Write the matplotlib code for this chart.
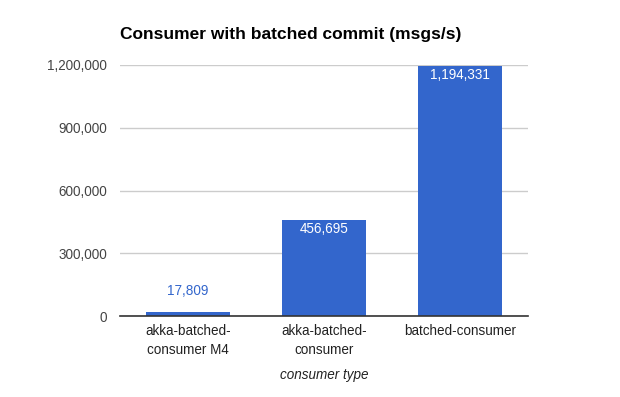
import matplotlib
matplotlib.use("Agg")
import matplotlib.pyplot as plt
from matplotlib.ticker import FuncFormatter

categories = ["akka-batched-\nconsumer M4", "akka-batched-\nconsumer", "batched-consumer"]
values = [17809, 456695, 1194331]
yticks = [0, 300000, 600000, 900000, 1200000]

plt.rcParams['font.family'] = ['Liberation Sans', 'DejaVu Sans']
PX = 72 / 100  # px -> pt

fig = plt.figure(figsize=(6.2, 3.97), dpi=100)
ax = fig.add_axes([120 / 620, 1 - 316 / 397, 408 / 620, 251 / 397])

bar_color = "#3366CC"
x = list(range(len(categories)))
bars = ax.bar(x, values, width=0.62, color=bar_color, zorder=3)
ax.set_xlim(-0.5, len(categories) - 0.5)
ax.set_ylim(0, 1200000)

ax.set_yticks(yticks)
ax.yaxis.set_major_formatter(FuncFormatter(lambda v, p: f"{int(v):,}"))
ax.tick_params(axis='y', length=0, pad=13 * PX, labelsize=13.5 * PX, labelcolor="#444444")
ax.set_xticks(x)
ax.set_xticklabels(categories, fontsize=13.5 * PX, color="#222222", linespacing=1.4)
ax.tick_params(axis='x', length=0, pad=6)

ax.grid(axis='y', color="#cccccc", linewidth=1, zorder=0)
for s in ["top", "right", "left"]:
    ax.spines[s].set_visible(False)
ax.spines["bottom"].set_color("#333333")
ax.spines["bottom"].set_linewidth(1.2)
ax.spines["bottom"].set_zorder(4)

for xi, v in zip(x, values):
    label = f"{v:,}"
    if v > 100000:
        ax.annotate(label, (xi, v), xytext=(0, -9), textcoords="offset pixels",
                    ha="center", va="center", color="white", fontsize=13.5 * PX, zorder=5)
    else:
        ax.annotate(label, (xi, v), xytext=(0, 21), textcoords="offset pixels",
                    ha="center", va="center", color=bar_color, fontsize=13.5 * PX, zorder=5)

fig.text(120 / 620, 1 - 35 / 397, "Consumer with batched commit (msgs/s)", fontsize=17.4 * PX,
         fontweight="bold", ha="left", va="center", color="#000000")
fig.text(324 / 620, 1 - 375 / 397, "consumer type", fontsize=13.5 * PX, style="italic",
         ha="center", va="center", color="#222222")

fig.savefig("out.png", dpi=100)
